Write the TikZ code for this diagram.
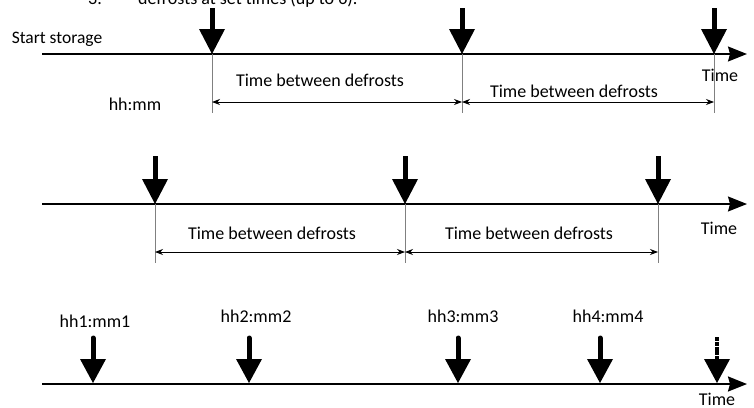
\documentclass[tikz,border=0pt]{standalone}
\usepackage{fontspec}
\setmainfont{Carlito}
\usetikzlibrary{arrows.meta}
\newcommand\dfmark[5][]{%
  \draw[line width=5pt,#1] (#2,#3) -- (#2,#4+1);
  \fill (#2-13,#4) -- (#2+13,#4) -- (#2,#5) -- cycle;}
\begin{document}
\begin{tikzpicture}[x=1pt,y=-1pt,
  lbl/.style={anchor=base, inner sep=0pt, font=\fontsize{18}{20}\selectfont},
  axis/.style={line width=1.3pt, -{Stealth[length=19pt,width=15pt,inset=2pt]}},
  tickline/.style={gray, line width=1pt},
  dim/.style={line width=0.8pt, {Stealth[length=8pt,width=6pt]}-{Stealth[length=8pt,width=6pt]}},
]
\clip (0,0) rectangle (754,407);
% cut-off heading
\node[lbl] (num) at (95,4.5) {3.};
\node[lbl, anchor=base west] (head) at (138,4.5) {defrosts at set times (up to 6).};

% ---------- row 1 ----------
\coordinate (a0) at (42,54);
\coordinate (a1) at (747,54);
\draw[axis] (a0) -- (a1);
\foreach \n/\x in {1/212,2/462,3/714}{
  \coordinate (r1t\n) at (\x,54);
  \coordinate (r1b\n) at (\x,113);
  \coordinate (r1d\n) at (\x,102);
  \draw[tickline] (r1t\n) -- (r1b\n);
  \dfmark{\x}{8}{29}{54}
}
\draw[dim] (r1d1) -- (r1d2);
\draw[dim] (r1d2) -- (r1d3);
\node[lbl, font=\fontsize{17.5}{20}\selectfont] (start) at (57,43) {Start storage};
\node[lbl] (hhmm) at (135,110) {hh:mm};
\node[lbl] (tb11) at (320,86) {Time between defrosts};
\node[lbl] (tb12) at (574,97) {Time between defrosts};
\node[lbl] (time1) at (720,81) {Time};

% ---------- row 2 ----------
\coordinate (b0) at (42,204);
\coordinate (b1) at (747,204);
\draw[axis] (b0) -- (b1);
\foreach \n/\x in {1/155,2/405,3/658}{
  \coordinate (r2t\n) at (\x,204);
  \coordinate (r2b\n) at (\x,263);
  \coordinate (r2d\n) at (\x,252);
  \draw[tickline] (r2t\n) -- (r2b\n);
  \dfmark{\x}{156}{179}{204}
}
\draw[dim] (r2d1) -- (r2d2);
\draw[dim] (r2d2) -- (r2d3);
\node[lbl] (tb21) at (272,239) {Time between defrosts};
\node[lbl] (tb22) at (529,239) {Time between defrosts};
\node[lbl] (time2) at (719,234) {Time};

% ---------- row 3 ----------
\coordinate (c0) at (42,384);
\coordinate (c1) at (747,384);
\draw[axis, line width=1.8pt] (c0) -- (c1);
\foreach \x in {93,249,458,600}{
  \dfmark[line cap=round]{\x}{338}{359}{383}
}
\dfmark[line width=4.5pt, dash pattern=on 4pt off 0.8pt]{717}{337}{359}{383}
\node[lbl] (t1) at (95,327) {hh1:mm1};
\node[lbl] (t2) at (256,322) {hh2:mm2};
\node[lbl] (t3) at (463,322) {hh3:mm3};
\node[lbl] (t4) at (608,322) {hh4:mm4};
\node[lbl] (time3) at (717,405) {Time};
\end{tikzpicture}
\end{document}
